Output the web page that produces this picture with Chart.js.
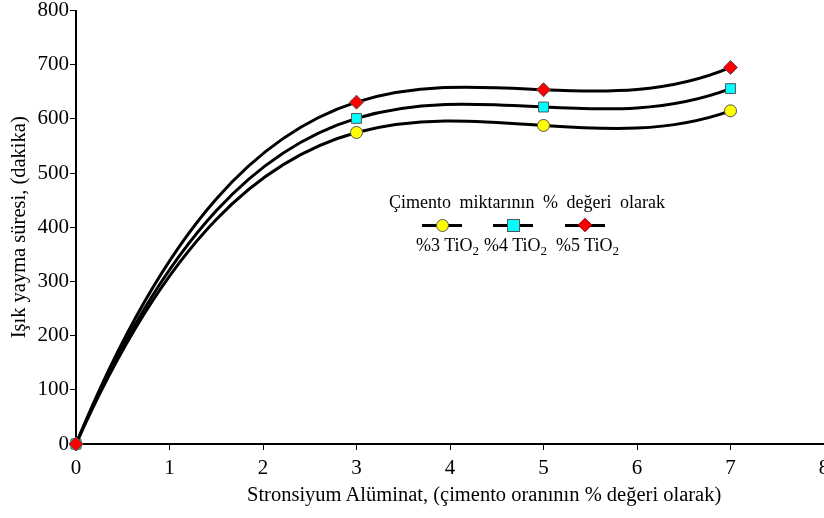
<!DOCTYPE html>
<html>
<head>
<meta charset="utf-8">
<script src="https://cdn.jsdelivr.net/npm/chart.js@4.4.0/dist/chart.umd.min.js"></script>
<style>
    html, body { margin: 0; padding: 0; background: #fff; }
    body { width: 824px; height: 518px; overflow: hidden; position: relative; }
    #wrap { position: absolute; left: 0; top: -3px; width: 840px; height: 521px; }
    #xtitle {
        position: absolute; left: 247px; top: 483px; white-space: nowrap;
        font-family: "Liberation Serif", "Times New Roman", serif; font-size: 20.5px; color: #000;
    }
    #legend {
        position: absolute; left: 380px; top: 190px; width: 300px;
        font-family: "Liberation Serif", "Times New Roman", serif; font-size: 18px; color: #000;
    }
    #legend .title { position: absolute; left: 9px; top: 2px; white-space: nowrap; word-spacing: 4px; }
    #legend .lab { position: absolute; top: 45px; white-space: nowrap; }
    #legend .line { position: absolute; top: 34px; width: 40px; height: 3px; background: #000; }
    #legend .mk { position: absolute; box-sizing: border-box; border: 1px solid #555; }
    sub { font-size: 13px; vertical-align: -4px; line-height: 0; }
</style>
</head>
<body>
<div id="wrap"><canvas id="chart"></canvas></div>
<div id="xtitle">Stronsiyum Alüminat, (çimento oranının % değeri olarak)</div>
<div id="legend">
    <div class="title">Çimento miktarının % değeri olarak</div>
    <div class="line" style="left:42px"></div>
    <div class="mk" style="left:56px;top:29px;width:13px;height:13px;border-radius:50%;background:#ffff00"></div>
    <div class="line" style="left:113px"></div>
    <div class="mk" style="left:127px;top:29px;width:13px;height:13px;background:#00ffff"></div>
    <div class="line" style="left:185px"></div>
    <div class="mk" style="left:200px;top:30px;width:10px;height:10px;background:#ff0000;transform:rotate(45deg);border-color:#a00"></div>
    <div class="lab" style="left:36px">%3 TiO<sub>2</sub></div>
    <div class="lab" style="left:104px">%4 TiO<sub>2</sub></div>
    <div class="lab" style="left:176px">%5 TiO<sub>2</sub></div>
</div>
<script>
const xValues = [0, 3, 5, 7];
const tio3 = [0, 575, 588, 615];
const tio4 = [0, 601, 622, 656];
const tio5 = [0, 631, 654, 695];
const xTicks = [0, 1, 2, 3, 4, 5, 6, 7, 8];
const yTicks = [0, 100, 200, 300, 400, 500, 600, 700, 800];

const serif = "'Liberation Serif', 'Times New Roman', serif";

function toPoints(ys) {
    return xValues.map((x, i) => ({ x: x, y: ys[i] }));
}

// slope of the polynomial through all points (Newton form), used only to shape the curve
function polySlopes(pts) {
    const n = pts.length;
    const xs = pts.map(p => p.x);
    const c = pts.map(p => p.y);
    for (let j = 1; j < n; j++) {
        for (let i = n - 1; i >= j; i--) {
            c[i] = (c[i] - c[i - 1]) / (xs[i] - xs[i - j]);
        }
    }
    return xs.map(x => {
        let p = c[n - 1], dp = 0;
        for (let k = n - 2; k >= 0; k--) {
            dp = dp * (x - xs[k]) + p;
            p = p * (x - xs[k]) + c[k];
        }
        return dp;
    });
}

// replace chart.js bezier control points so the lines follow a smooth polynomial
const smoothCurves = {
    id: "smoothCurves",
    beforeDatasetsDraw(chart) {
        const sx = chart.scales.x, sy = chart.scales.y;
        chart.data.datasets.forEach((ds, i) => {
            const meta = chart.getDatasetMeta(i);
            const line = meta.dataset;
            line.updateControlPoints(chart.chartArea, "x");
            const els = meta.data;
            const d = polySlopes(ds.data);
            for (let k = 0; k < ds.data.length - 1; k++) {
                const a = ds.data[k], b = ds.data[k + 1];
                const h = (b.x - a.x) / 3;
                els[k].cp2x = sx.getPixelForValue(a.x + h);
                els[k].cp2y = sy.getPixelForValue(a.y + d[k] * h);
                els[k + 1].cp1x = sx.getPixelForValue(b.x - h);
                els[k + 1].cp1y = sy.getPixelForValue(b.y - d[k + 1] * h);
            }
            delete line._path;
        });
    }
};

function series(label, ys, bg, style, radius, order) {
    return {
        label: label,
        data: toPoints(ys),
        borderColor: "#000",
        borderWidth: 3,
        tension: 0.4,
        clip: false,
        pointStyle: style,
        pointRadius: radius,
        pointBackgroundColor: bg,
        pointBorderColor: "#555",
        pointBorderWidth: 1,
        order: order
    };
}

const ctx = document.getElementById("chart");
new Chart(ctx, {
    type: "line",
    data: {
        datasets: [
            series("%3 TiO₂", tio3, "#ffff00", "circle", 6, 3),
            series("%4 TiO₂", tio4, "#00ffff", "rect", 7, 2),
            series("%5 TiO₂", tio5, "#ff0000", "rectRot", 7, 1)
        ]
    },
    options: {
        responsive: true,
        maintainAspectRatio: false,
        animation: false,
        layout: { padding: { top: 0, right: 16, left: 0, bottom: 0 } },
        plugins: {
            legend: { display: false },
            tooltip: { enabled: false }
        },
        scales: {
            x: {
                type: "linear",
                min: 0,
                max: 8,
                afterBuildTicks: s => { s.ticks = xTicks.map(v => ({ value: v })); },
                afterFit: s => { s.height = 74; },
                grid: { drawOnChartArea: false, tickLength: 6, color: "#000" },
                border: { color: "#000", width: 2 },
                ticks: { color: "#000", font: { family: serif, size: 21 }, padding: 6 }
            },
            y: {
                min: 0,
                max: 800,
                afterBuildTicks: s => { s.ticks = yTicks.map(v => ({ value: v })); },
                afterFit: s => { s.width = 76; },
                grid: { drawOnChartArea: false, tickLength: 6, color: "#000" },
                border: { color: "#000", width: 2 },
                ticks: { color: "#000", font: { family: serif, size: 21 }, padding: 1 },
                title: {
                    display: true,
                    text: "Işık yayma süresi, (dakika)",
                    color: "#000",
                    font: { family: serif, size: 20.5 },
                    padding: { top: 7, bottom: 2 }
                }
            }
        }
    },
    plugins: [smoothCurves]
});
</script>
</body>
</html>
